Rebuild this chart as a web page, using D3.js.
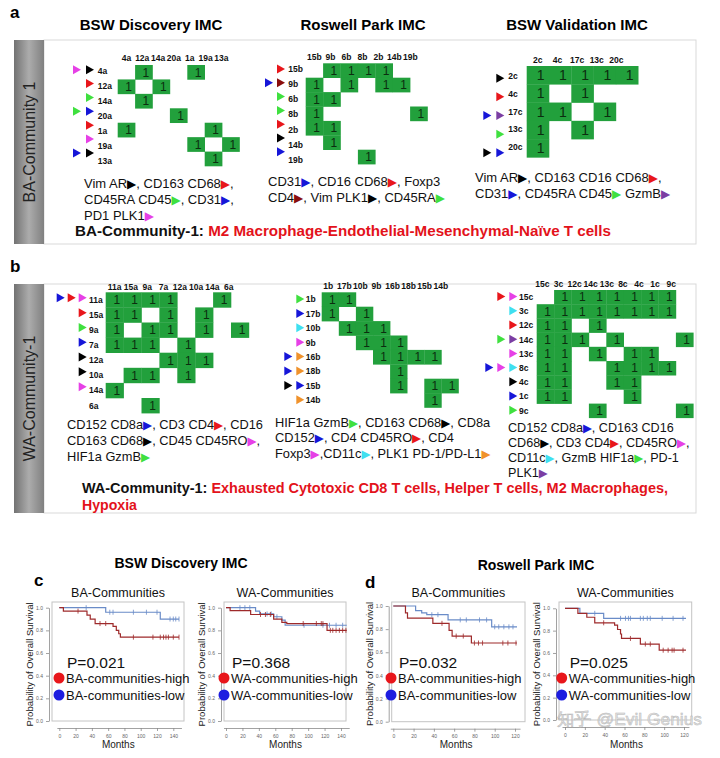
<!DOCTYPE html>
<html><head><meta charset="utf-8">
<script src="https://cdn.jsdelivr.net/npm/d3@7"></script>
<style>body{margin:0;background:#fff} text{font-family:"Liberation Sans",Arial,"DejaVu Sans",sans-serif}</style>
</head><body>
<script>
// ---------------- DATA ----------------
const COLORS = {k:"#000000", r:"#e8161b", g:"#3fe03f", b:"#1616d8", m:"#e640e6", c:"#3fe0f0", o:"#f0922b", p:"#7b3ea3", d:"#8a0d0d"};

// Panel a — BSW Discovery IMC
const m1Cols = ["4a","12a","14a","20a","1a","19a","13a"];
const m1Rows = ["4a","12a","14a","20a","1a","19a","13a"];
const m1Links = [["4a",["12a","1a"]],["12a",["4a","14a"]],["14a",["12a"]],["20a",["20a"]],["1a",["4a","19a"]],["19a",["1a","13a"]],["13a",["19a"]]];
const m1Markers = [["m","k"],["r"],["g"],["g","b"],["r"],["m"],["b","k"]];
const m1Legend = ["Vim AR[k], CD163 CD68[r],","CD45RA CD45[g], CD31[b],","PD1 PLK1[m]"];

// Panel a — Roswell Park IMC
const m2Cols = ["15b","9b","6b","8b","2b","14b","19b"];
const m2Rows = ["15b","9b","6b","8b","2b","14b","19b"];
const m2Links = [["15b",["9b","6b","8b","2b"]],["9b",["15b","6b","2b","14b"]],["6b",["15b","9b"]],["8b",["15b","19b"]],["2b",["15b","9b"]],["14b",["9b"]],["19b",["8b"]]];
const m2Markers = [["r"],["b","d"],["g"],["g"],["r"],["k"],["b"]];
const m2Legend = ["CD31[b], CD16 CD68[r], Foxp3","CD4[d], Vim PLK1[k], CD45RA[g]"];

// Panel a — BSW Validation IMC
const m3Cols = ["2c","4c","17c","13c","20c"];
const m3Rows = ["2c","4c","17c","13c","20c"];
const m3Links = [["2c",["2c","4c","17c","13c","20c"]],["4c",["2c","17c"]],["17c",["2c","4c","13c"]],["13c",["2c","17c"]],["20c",["2c"]]];
const m3Markers = [["k"],["r"],["b","p"],["g"],["k","b"]];
const m3Legend = ["Vim AR[k], CD163 CD16 CD68[r],","CD31[b], CD45RA CD45[g] GzmB[p]"];

// Panel b — BSW Discovery IMC
const m4Cols = ["11a","15a","9a","7a","12a","10a","14a","6a"];
const m4Rows = ["11a","15a","9a","7a","12a","10a","14a","6a"];
const m4Links = [["11a",["11a","15a","9a","7a","14a"]],["15a",["11a","15a","7a","10a"]],["9a",["11a","9a","7a","10a","6a"]],["7a",["11a","15a","9a","12a"]],["12a",["7a","12a","10a"]],["10a",["15a","9a","12a"]],["14a",["11a"]],["6a",["9a"]]];
const m4Markers = [["b","r","m"],["r"],["g"],["b"],["k"],["k"],["m"],[]];
const m4Legend = ["CD152 CD8a[b], CD3 CD4[r], CD16","CD163 CD68[k], CD45 CD45RO[m],","HIF1a GzmB[g]"];

// Panel b — Roswell Park IMC
const m5Cols = ["1b","17b","10b","9b","16b","18b","15b","14b"];
const m5Rows = ["1b","17b","10b","9b","16b","18b","15b","14b"];
const m5Links = [["1b",["1b","17b"]],["17b",["1b","10b"]],["10b",["17b","10b","9b"]],["9b",["10b","9b","16b"]],["16b",["9b","16b","18b","15b"]],["18b",["16b"]],["15b",["16b","15b","14b"]],["14b",["15b"]]];
const m5Markers = [["g"],["b"],["c"],["m"],["b","o"],["b","o"],["k","b"],["o"]];
const m5Legend = ["HIF1a GzmB[g], CD163 CD68[k], CD8a","CD152[b], CD4 CD45RO[r], CD4","Foxp3[m],CD11c[c], PLK1 PD-1/PD-L1[o]"];

// Panel b — BSW Validation IMC
const m6Cols = ["15c","3c","12c","14c","13c","8c","4c","1c","9c"];
const m6Rows = ["15c","3c","12c","14c","13c","8c","4c","1c","9c"];
const m6Links = [["15c",["3c","12c","14c","13c","8c","4c","1c"]],["3c",["15c","3c","12c","14c","13c","8c","4c","1c"]],["12c",["15c","3c","14c"]],["14c",["15c","3c","12c","13c","9c"]],["13c",["15c","3c","14c","8c","4c"]],["8c",["15c","3c","13c","8c","4c","1c"]],["4c",["15c","3c","13c","8c"]],["1c",["15c","3c","8c"]],["9c",["14c","9c"]]];
const m6Markers = [["r","m"],["c"],["r"],["g","p"],["m"],["b","m","c"],["k"],["b"],["g"]];
const m6Legend = ["CD152 CD8a[b], CD163 CD16","CD68[k], CD3 CD4[r], CD45RO[m],","CD11c[c], GzmB HIF1a[g], PD-1","PLK1[p]"];

const panelTitles = ["BSW Discovery IMC","Roswell Park IMC","BSW Validation IMC"];
const baTitle = ["BA-Community-1: ","M2 Macrophage-Endothelial-Mesenchymal-Naïve T cells"];
const waTitle1 = ["WA-Community-1: ","Exhausted Cytotoxic CD8 T cells, Helper T cells, M2 Macrophages,"];
const waTitle2 = "Hypoxia";

// Survival curves: [months, survival] step points
const c1High = [[0,1],[5,0.97],[34,0.935],[38,0.90],[44,0.86],[66,0.835],[70,0.80],[73,0.77],[75,0.74]];
const c1HighCens = [23,50,57,91,115,124,128,131,134,140,147];
const c1Low = [[0,1],[57,0.96],[124,0.90]];
const c1LowCens = [33,62,66,91,107,120,136,140,143,147];

const c2High = [[0,1],[5,0.975],[30,0.94],[58,0.90],[68,0.87],[74,0.86],[123,0.80]];
const c2HighCens = [42,48,54,94,110,116,118,127,130,134,138,142,146];
const c2Low = [[0,1],[36,0.97],[41,0.945],[58,0.92],[68,0.89],[72,0.845]];
const c2LowCens = [17,23,29,50,55,62,95,118,126,134,142];

const d1High = [[0,1],[12,0.94],[14,0.895],[39,0.85],[55,0.79],[58,0.74],[77,0.68]];
const d1HighCens = [48,62,69,80,84,88,108,113,121];
const d1Low = [[0,1],[22,0.96],[28,0.94],[33,0.925],[54,0.88],[97,0.82]];
const d1LowCens = [38,44,66,72,85,92,100,104,109,114,118];

const d2High = [[0,1],[13,0.955],[22,0.92],[30,0.87],[50,0.85],[53,0.81],[56,0.77],[57,0.73],[76,0.68],[95,0.625]];
const d2HighCens = [39,66,81,86,99,104,108,110,119];
const d2Low = [[0,1],[15,0.955],[39,0.91]];
const d2LowCens = [30,56,61,64,66,76,79,83,86,98,109,119];

const kmPvals = ["P=0.021","P=0.368","P=0.032","P=0.025"];
const kmTitles = ["BA-Communities","WA-Communities","BA-Communities","WA-Communities"];
const kmLegends = [["BA-communities-high","BA-communities-low"],["WA-communities-high","WA-communities-low"],["BA-communities-high","BA-communities-low"],["WA-communities-high","WA-communities-low"]];
const yTicks = [0,0.2,0.4,0.6,0.8,1.0];
const watermark = "知乎 @Evil Genius";

// ---------------- DRAW ----------------
const W = 720, H = 758;
const svg = d3.select("body").append("svg").attr("width", W).attr("height", H);
const GREEN = "#22a03c";
const defs = svg.append("defs");
const grad = defs.append("linearGradient").attr("id","gbar").attr("x1","0").attr("x2","1").attr("y1","0").attr("y2","0");
grad.append("stop").attr("offset","0").attr("stop-color","#727272");
grad.append("stop").attr("offset","0.5").attr("stop-color","#acacac");
grad.append("stop").attr("offset","1").attr("stop-color","#808080");

function panelFrame(y0, y1, label) {
  svg.append("rect").attr("x",44).attr("y",y0).attr("width",652).attr("height",y1-y0)
    .attr("fill","#fff").attr("stroke","#d9d9d9").attr("stroke-width",1);
  svg.append("rect").attr("x",14).attr("y",y0).attr("width",30).attr("height",y1-y0).attr("fill","url(#gbar)");
  const cy = (y0+y1)/2;
  svg.append("text").attr("transform",`translate(34.5,${cy}) rotate(-90)`).attr("text-anchor","middle")
    .attr("font-size",16).attr("fill","#222").text(label);
}
panelFrame(40, 244, "BA-Community 1");
panelFrame(284, 513, "WA-Community-1");

svg.append("text").attr("x",10).attr("y",18).attr("font-size",17).attr("font-weight","bold").text("a");
svg.append("text").attr("x",10).attr("y",272).attr("font-size",17).attr("font-weight","bold").text("b");
svg.append("text").attr("x",34).attr("y",586).attr("font-size",17).attr("font-weight","bold").text("c");
svg.append("text").attr("x",365).attr("y",588).attr("font-size",17).attr("font-weight","bold").text("d");

[151,363,577].forEach((cx,i)=>{
  svg.append("text").attr("x",cx).attr("y",30).attr("text-anchor","middle").attr("font-size",15)
    .attr("font-weight","bold").text(panelTitles[i]);
});
svg.append("text").attr("x",181).attr("y",568).attr("text-anchor","middle").attr("font-size",14).attr("font-weight","bold").text(panelTitles[0]);
svg.append("text").attr("x",536).attr("y",570).attr("text-anchor","middle").attr("font-size",14).attr("font-weight","bold").text(panelTitles[1]);

function tri(ax, ay, w, h) { return `M${ax-w},${ay-h/2}L${ax},${ay}L${ax-w},${ay+h/2}Z`; }

function drawMatrix(cols, rows, links, markers, L) {
  const g = svg.append("g");
  const x = d3.scaleBand().domain(cols).range([L.x0, L.x0 + cols.length*L.cw]);
  const y = d3.scaleBand().domain(rows).range([L.y0, L.y0 + rows.length*L.ch]);
  const hx = d3.scalePoint().domain(cols).range([L.x0 + L.cw/2 + (L.hoff||0), L.x0 + L.cw/2 + (L.hoff||0) + (cols.length-1)*L.cw*L.hs]);
  const cells = links.flatMap(([r, cs]) => cs.map(c => ({r, c})));
  g.selectAll(null).data(cells).join("rect")
    .attr("x", d=>x(d.c)).attr("y", d=>y(d.r)).attr("width", x.bandwidth()+0.3).attr("height", y.bandwidth()+0.3)
    .attr("fill", GREEN);
  g.selectAll(null).data(cells).join("text")
    .attr("x", d=>x(d.c)+x.bandwidth()*0.62).attr("y", d=>y(d.r)+y.bandwidth()/2).attr("dy","0.36em")
    .attr("text-anchor","middle").attr("font-size", L.fs1).attr("fill","#0b2e0f").text("1");
  g.selectAll(null).data(cols).join("text")
    .attr("x", d=>hx(d)).attr("y", L.hy).attr("text-anchor","middle").attr("font-weight","bold")
    .attr("font-size", 8.5).attr("fill","#111").text(d=>d);
  g.selectAll(null).data(rows).join("text")
    .attr("x", L.lx).attr("y", (d,i)=>y(d)+y.bandwidth()/2 + L.ld*(i-2)).attr("dy","0.35em")
    .attr("font-weight","bold").attr("font-size", 8.5).attr("fill","#111").text(d=>d);
  const arr = rows.flatMap((r,i)=> markers[i].map((col,j)=>({r, i, col, k: markers[i].length-1-j})));
  g.selectAll(null).data(arr).join("path")
    .attr("d", d=>tri(L.ar - d.k*L.as, y(d.r)+y.bandwidth()/2 - L.ad0 - L.ad*d.i, 8, 9))
    .attr("fill", d=>COLORS[d.col]);
}

drawMatrix(m1Cols, m1Rows, m1Links, m1Markers, {x0:117.7,y0:65,cw:17.4,ch:14.43,hs:0.91,hy:61,lx:97.7,ld:0.6,ar:94,as:13,ad0:2.5,ad:0.55,fs1:12});
drawMatrix(m2Cols, m2Rows, m2Links, m2Markers, {x0:305.7,y0:63.3,cw:17.4,ch:14.4,hs:0.92,hy:60,lx:288.3,ld:0.8,ar:285,as:12,ad0:1.5,ad:0.6,fs1:12});
drawMatrix(m3Cols, m3Rows, m3Links, m3Markers, {x0:526.7,y0:66,cw:22.3,ch:18.27,hs:0.88,hy:63,lx:508.3,ld:-0.6,ar:504.3,as:13,ad0:-3,ad:-0.4,fs1:14});
drawMatrix(m4Cols, m4Rows, m4Links, m4Markers, {x0:105.7,y0:292.3,cw:17.9,ch:15.1,hs:0.91,hy:290,lx:89,ld:0,ar:86.7,as:11,ad0:2,ad:0.3,fs1:12});
drawMatrix(m5Cols, m5Rows, m5Links, m5Markers, {x0:321.7,y0:292.3,cw:17.1,ch:14.4,hs:0.94,hy:289,lx:305.7,ld:0,ar:304.3,as:12,ad0:0.5,ad:0,fs1:12,hoff:-2});
drawMatrix(m6Cols, m6Rows, m6Links, m6Markers, {x0:536.7,y0:290,cw:17.4,ch:14.2,hs:0.925,hy:287,lx:519,ld:0,ar:517.3,as:12,ad0:0.5,ad:0,fs1:12,hoff:-3});

function drawLegend(lines, x, y0, lh, fs) {
  lines.forEach((line,i)=>{
    const t = svg.append("text").attr("x",x).attr("y",y0+i*lh).attr("font-size",fs).attr("fill","#111");
    line.split(/(\[[a-z]\])/).forEach(p=>{
      if (!p) return;
      const m = p.match(/^\[([a-z])\]$/);
      if (m) t.append("tspan").attr("fill",COLORS[m[1]]).attr("font-size",fs*0.92).attr("font-family","DejaVu Sans").text("▶");
      else t.append("tspan").text(p);
    });
  });
}
drawLegend(m1Legend, 84, 187.5, 16.2, 13);
drawLegend(m2Legend, 268, 185.5, 16.5, 13);
drawLegend(m3Legend, 475, 181.5, 16.5, 13);
drawLegend(m4Legend, 67, 428.5, 16, 12.8);
drawLegend(m5Legend, 275, 426.5, 15.5, 12.8);
drawLegend(m6Legend, 508, 432, 15, 12.6);

function titleLine(parts, x, y, len) {
  const t = svg.append("text").attr("x",x).attr("y",y).attr("font-size",15.5).attr("font-weight","bold")
    .attr("textLength",len).attr("lengthAdjust","spacingAndGlyphs");
  t.append("tspan").attr("fill","#111").text(parts[0]);
  t.append("tspan").attr("fill","#e3121b").text(parts[1]);
}
titleLine(baTitle, 75, 236, 536);
titleLine(waTitle1, 82, 493, 586);
svg.append("text").attr("x",82).attr("y",509.5).attr("font-size",15.5).attr("font-weight","bold")
  .attr("fill","#e3121b").attr("textLength",55).attr("lengthAdjust","spacingAndGlyphs").text(waTitle2);

// ---------- Kaplan-Meier ----------
const RED = "#9e2a2b", BLUE = "#6a8cc8";
function drawKM(idx, L, high, highC, low, lowC) {
  const g = svg.append("g");
  const x = d3.scaleLinear().domain([0, L.tmax]).range([L.px0, L.px1]);
  const y = d3.scaleLinear().domain([0, 1]).range([L.py0, L.py1]);
  g.append("rect").attr("x",L.fl).attr("y",L.ft).attr("width",L.fr-L.fl).attr("height",y(0)-L.ft)
    .attr("fill","none").attr("stroke","#c4c4c4").attr("stroke-width",1);
  const ya = g.append("g").attr("transform",`translate(${L.fl-3},0)`)
    .call(d3.axisLeft(y).tickValues(yTicks).tickFormat(d3.format(".1f")).tickSize(3).tickSizeOuter(0));
  const xs = d3.scaleLinear().domain([-3, L.tend+3]).range([x(-3), x(L.tend+3)]);
  const xa = g.append("g").attr("transform",`translate(0,${y(0)+7})`)
    .call(d3.axisBottom(xs).tickValues(d3.range(0, L.tmax+1, 20)).tickSize(3).tickSizeOuter(0));
  [ya, xa].forEach(a=>{
    a.selectAll("path,line").attr("stroke","#8a8a8a").attr("stroke-width",0.8);
    a.selectAll("text").attr("font-size",5).attr("fill","#666").attr("font-family","Liberation Sans, Arial");
  });
  g.append("text").attr("x", (L.px0+L.px1)/2 + 2).attr("y", 748).attr("text-anchor","middle")
    .attr("font-size",10).attr("fill","#222").text("Months");
  g.append("text").attr("transform",`translate(${L.fl-19},${(y(0)+y(1))/2}) rotate(-90)`).attr("text-anchor","middle")
    .attr("font-size",9.5).attr("fill","#222").text("Probability of Overall Survival");
  g.append("text").attr("x",(L.fl+L.fr)/2).attr("y",597).attr("text-anchor","middle").attr("font-size",12.5)
    .attr("fill","#111").text(kmTitles[idx]);
  const line = d3.line().x(d=>x(d[0])).y(d=>y(d[1])).curve(d3.curveStepAfter);
  const surv = (pts,t)=>{ let s=1; pts.forEach(p=>{ if (p[0]<=t) s=p[1]; }); return s; };
  [[low, lowC, BLUE],[high, highC, RED]].forEach(([pts, cens, col])=>{
    const full = pts.concat([[L.tend, pts[pts.length-1][1]]]);
    g.append("path").attr("d", line(full)).attr("fill","none").attr("stroke",col).attr("stroke-width",1.2);
    g.selectAll(null).data(cens).join("line")
      .attr("x1",d=>x(d)).attr("x2",d=>x(d)).attr("y1",d=>y(surv(pts,d))-2.5).attr("y2",d=>y(surv(pts,d))+2.5)
      .attr("stroke",col).attr("stroke-width",0.8);
  });
  g.append("text").attr("x",L.lx+8).attr("y",668).attr("font-size",15.5).attr("fill","#111").text(kmPvals[idx]);
  [["#e8161b",678],["#1d1de0",695]].forEach(([c,cy],j)=>{
    g.append("circle").attr("cx",L.lx).attr("cy",cy).attr("r",5.5).attr("fill",c);
    g.append("text").attr("x",L.lx+7).attr("y",cy+4.5).attr("font-size",13).attr("fill","#111").text(kmLegends[idx][j]);
  });
}
drawKM(0, {tmax:140,tend:147,px0:59.3,px1:173.3,py0:721,py1:607.7,fl:52,fr:184,ft:602,lx:59}, c1High, c1HighCens, c1Low, c1LowCens);
drawKM(1, {tmax:140,tend:147,px0:226,px1:341,py0:721,py1:607.7,fl:224,fr:346,ft:602,lx:224}, c2High, c2HighCens, c2Low, c2LowCens);
drawKM(2, {tmax:120,tend:122,px0:393.3,px1:515,py0:721.7,py1:606,fl:391.7,fr:525,ft:602,lx:391}, d1High, d1HighCens, d1Low, d1LowCens);
drawKM(3, {tmax:120,tend:122,px0:565,px1:684,py0:720,py1:608.3,fl:559,fr:691.7,ft:602,lx:561.7}, d2High, d2HighCens, d2Low, d2LowCens);

svg.append("text").attr("x",557).attr("y",725).attr("font-size",17).attr("fill","#e2e2e2").attr("opacity",0.9)
  .attr("stroke","#b0b0b0").attr("stroke-width",0.5)
  .attr("textLength",145).attr("lengthAdjust","spacingAndGlyphs")
  .attr("font-family","Noto Sans CJK SC, sans-serif").text(watermark);
</script></body></html>
